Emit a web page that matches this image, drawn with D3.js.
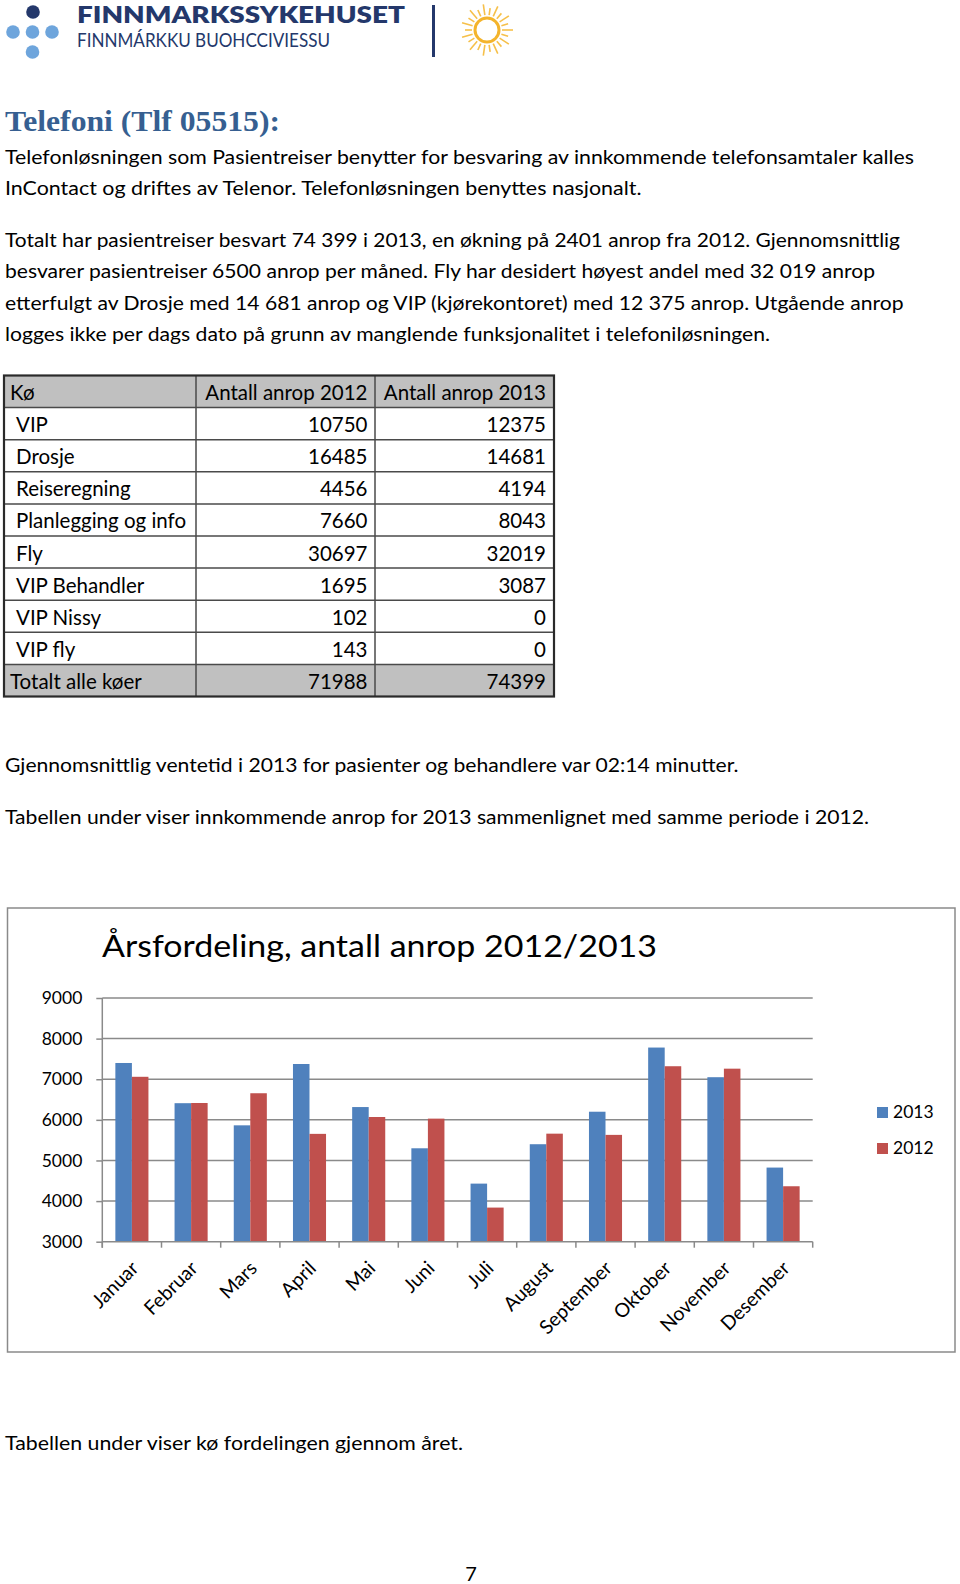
<!DOCTYPE html>
<html><head><meta charset="utf-8">
<script src="https://cdn.jsdelivr.net/npm/d3@7/dist/d3.min.js"></script>
<style>html,body{margin:0;padding:0;background:#fff;}svg{display:block;}</style>
</head><body>
<script>
// ---------- data ----------
const months = ["Januar","Februar","Mars","April","Mai","Juni","Juli","August","September","Oktober","November","Desember"];
const seriesNames = ["2013","2012"];
const calls2013 = [7400, 6410, 5865, 7375, 6315, 5300, 4430, 5400, 6200, 7780, 7050, 4825];
const calls2012 = [7060, 6415, 6655, 5655, 6070, 6030, 3840, 5660, 5630, 7320, 7260, 4365];
const yTicks = [3000, 4000, 5000, 6000, 7000, 8000, 9000];

const tableHeader = ["Kø", "Antall anrop 2012", "Antall anrop 2013"];
const queues = ["VIP","Drosje","Reiseregning","Planlegging og info","Fly","VIP Behandler","VIP Nissy","VIP fly","Totalt alle køer"];
const table2012 = [10750, 16485, 4456, 7660, 30697, 1695, 102, 143, 71988];
const table2013 = [12375, 14681, 4194, 8043, 32019, 3087, 0, 0, 74399];

const headingText = "Telefoni (Tlf 05515):";
const paragraph1 = [
  "Telefonløsningen som Pasientreiser benytter for besvaring av innkommende telefonsamtaler kalles",
  "InContact og driftes av Telenor. Telefonløsningen benyttes nasjonalt."
];
const paragraph2 = [
  "Totalt har pasientreiser besvart 74 399 i 2013, en økning på 2401 anrop fra 2012. Gjennomsnittlig",
  "besvarer pasientreiser 6500 anrop per måned. Fly har desidert høyest andel med 32 019 anrop",
  "etterfulgt av Drosje med 14 681 anrop og VIP (kjørekontoret) med 12 375 anrop.  Utgående anrop",
  "logges ikke per dags dato på grunn av manglende funksjonalitet i telefoniløsningen."
];
const waitText = "Gjennomsnittlig ventetid i 2013 for pasienter og behandlere var 02:14 minutter.";
const introText = "Tabellen under viser innkommende anrop for 2013 sammenlignet med samme periode i 2012.";
const afterText = "Tabellen under viser kø fordelingen gjennom året.";
const chartTitle = "Årsfordeling, antall anrop 2012/2013";

// ---------- page ----------
const W = 960, H = 1584;
const FONT = "Lato, 'Open Sans', sans-serif";
const svg = d3.select("body").append("svg").attr("width", W).attr("height", H);
svg.append("rect").attr("width", W).attr("height", H).attr("fill", "#fff");

function fitText(g, txt, x, y, width, size, opts = {}) {
  const t = g.append("text").attr("x", x).attr("y", y).text(txt)
    .attr("font-family", opts.family || FONT).attr("font-size", size)
    .attr("fill", opts.fill || "#000");
  if (opts.weight) t.attr("font-weight", opts.weight);
  if (width) t.attr("textLength", width).attr("lengthAdjust", "spacingAndGlyphs");
  return t;
}

// ---------- logo ----------
const logo = svg.append("g");
const navy = "#24386b", lightBlue = "#6ea5dc";
logo.append("circle").attr("cx", 33).attr("cy", 12).attr("r", 6.8).attr("fill", navy);
[[13,32],[32.5,32],[52,32],[32.5,52]].forEach(([cx,cy]) =>
  logo.append("circle").attr("cx", cx).attr("cy", cy).attr("r", 6.8).attr("fill", lightBlue));
fitText(logo, "FINNMARKSSYKEHUSET", 77, 22.5, 328, 22, {weight: 800, fill: navy});
fitText(logo, "FINNMÁRKKU BUOHCCIVIESSU", 77, 47, 253, 19, {fill: navy});
logo.append("rect").attr("x", 432).attr("y", 5).attr("width", 3).attr("height", 52).attr("fill", navy);
const sun = logo.append("g").attr("transform", "translate(487,30)");
sun.append("circle").attr("r", 12).attr("fill", "none").attr("stroke", "#f4b42c").attr("stroke-width", 3);
d3.range(22).forEach(i => {
  const a = i / 22 * 2 * Math.PI;
  const r1 = 15, r2 = i % 2 ? 22 : 26;
  sun.append("line").attr("x1", r1*Math.cos(a)).attr("y1", r1*Math.sin(a))
    .attr("x2", r2*Math.cos(a)).attr("y2", r2*Math.sin(a))
    .attr("stroke", "#f6c04a").attr("stroke-width", 1.6);
});

// ---------- heading and paragraphs ----------
fitText(svg, headingText, 5, 131, 275, 29, {family: "'Liberation Serif', 'DejaVu Serif', serif", weight: 700, fill: "#365f91"});
const p1W = [909, 636.5], p1Y = [163.5, 195];
paragraph1.forEach((s, i) => fitText(svg, s, 5, p1Y[i], p1W[i], 19.5));
const p2W = [895, 870, 898.5, 765], p2Y = [246.5, 278, 309.5, 341];
paragraph2.forEach((s, i) => fitText(svg, s, 5, p2Y[i], p2W[i], 19.5));

// ---------- table ----------
const tbl = svg.append("g");
const colX = [4, 196, 375, 554];
const rowTop = 375.5, rowH = 32.1;
const nRows = queues.length + 1;
const rowY = d3.scaleLinear().domain([0, nRows]).range([rowTop, rowTop + nRows * rowH]);
[0, nRows - 1].forEach(r => tbl.append("rect").attr("x", colX[0]).attr("y", rowY(r))
  .attr("width", colX[3] - colX[0]).attr("height", rowH).attr("fill", "#c0c0c0"));
d3.range(1, nRows).forEach(r => tbl.append("line").attr("x1", colX[0]).attr("x2", colX[3])
  .attr("y1", rowY(r)).attr("y2", rowY(r)).attr("stroke", "#4a4a4a").attr("stroke-width", 1.5));
[colX[1], colX[2]].forEach(x => tbl.append("line").attr("x1", x).attr("x2", x)
  .attr("y1", rowY(0)).attr("y2", rowY(nRows)).attr("stroke", "#4a4a4a").attr("stroke-width", 1.5));
tbl.append("rect").attr("x", colX[0]).attr("y", rowY(0)).attr("width", colX[3] - colX[0])
  .attr("height", nRows * rowH).attr("fill", "none").attr("stroke", "#2a2a2a").attr("stroke-width", 2.2);
const tSize = 20.5;
tbl.append("text").attr("x", 10).attr("y", rowY(0) + 24.5).text(tableHeader[0]).attr("font-family", FONT).attr("font-size", tSize);
tbl.append("text").attr("x", 367.5).attr("y", rowY(0) + 24.5).attr("text-anchor", "end").text(tableHeader[1]).attr("font-family", FONT).attr("font-size", tSize);
tbl.append("text").attr("x", 546).attr("y", rowY(0) + 24.5).attr("text-anchor", "end").text(tableHeader[2]).attr("font-family", FONT).attr("font-size", tSize);
queues.forEach((q, i) => {
  const y = rowY(i + 1) + 24.5;
  const isTotal = i === queues.length - 1;
  tbl.append("text").attr("x", isTotal ? 10 : 16).attr("y", y).text(q).attr("font-family", FONT).attr("font-size", tSize);
  tbl.append("text").attr("x", 367.5).attr("y", y).attr("text-anchor", "end").text(table2012[i]).attr("font-family", FONT).attr("font-size", tSize);
  tbl.append("text").attr("x", 546).attr("y", y).attr("text-anchor", "end").text(table2013[i]).attr("font-family", FONT).attr("font-size", tSize);
});

// ---------- more text ----------
fitText(svg, waitText, 5, 772, 733.5, 19.5);
fitText(svg, introText, 5, 824, 864, 19.5);

// ---------- chart ----------
const chart = svg.append("g");
chart.append("rect").attr("x", 7.5).attr("y", 908).attr("width", 947.5).attr("height", 444)
  .attr("fill", "#fff").attr("stroke", "#8a8a8a").attr("stroke-width", 1.5);
fitText(chart, chartTitle, 102, 957, 555, 31);

const plotL = 102.3, plotR = 812.7, plotB = 1241.7, plotT = 998;
const x0 = d3.scaleBand().domain(months).range([plotL, plotR]).padding(0);
const x1 = d3.scaleBand().domain(seriesNames).range([0, x0.bandwidth()]).paddingInner(0).paddingOuter(0.79);
const y = d3.scaleLinear().domain([3000, 9000]).range([plotB, plotT]);
const colors = {"2013": "#4f81bd", "2012": "#c0504d"};
const gridColor = "#8a8a8a";

// gridlines + y axis
const yAxis = d3.axisLeft(y).tickValues(yTicks).tickSize(6).tickPadding(14).tickFormat(d3.format("d"));
const yg = chart.append("g").attr("transform", `translate(${plotL},0)`).call(yAxis);
yg.select(".domain").remove();
yg.selectAll(".tick line").attr("stroke", gridColor).attr("stroke-width", 1.5);
yg.selectAll(".tick text").attr("font-family", FONT).attr("font-size", 17.5).attr("fill", "#000");
chart.append("g").selectAll("line").data(yTicks.filter(t => t > 3000)).join("line")
  .attr("x1", plotL).attr("x2", plotR).attr("y1", d => y(d)).attr("y2", d => y(d))
  .attr("stroke", gridColor).attr("stroke-width", 1.5);

// bars
const data = months.map((m, i) => ({month: m, values: [{s: "2013", v: calls2013[i]}, {s: "2012", v: calls2012[i]}]}));
const groups = chart.append("g").selectAll("g").data(data).join("g")
  .attr("transform", d => `translate(${x0(d.month)},0)`);
groups.selectAll("rect").data(d => d.values).join("rect")
  .attr("x", d => x1(d.s)).attr("width", x1.bandwidth())
  .attr("y", d => y(d.v)).attr("height", d => y(3000) - y(d.v))
  .attr("fill", d => colors[d.s]);

// x axis
const xg = chart.append("g").attr("transform", `translate(0,${plotB})`);
xg.append("line").attr("x1", plotL).attr("x2", plotR).attr("stroke", gridColor).attr("stroke-width", 1.5);
xg.append("line").attr("x1", plotL).attr("x2", plotL).attr("y1", y(9000) - plotB).attr("y2", 6).attr("stroke", gridColor).attr("stroke-width", 1.5);
const bounds = months.map(m => x0(m)).concat([plotR]);
xg.selectAll(".tk").data(bounds).join("line").attr("class", "tk")
  .attr("x1", d => d).attr("x2", d => d).attr("y1", 0).attr("y2", 6)
  .attr("stroke", gridColor).attr("stroke-width", 1.5);
xg.selectAll(".lbl").data(months).join("text").attr("class", "lbl")
  .attr("transform", d => `translate(${x0(d) + x0.bandwidth() / 2 + 3},${23}) rotate(-45)`)
  .attr("text-anchor", "end").attr("dy", "0.35em")
  .attr("font-family", FONT).attr("font-size", 19.5).text(d => d);

// legend
const lg = chart.append("g").attr("transform", "translate(877,1107)");
seriesNames.forEach((s, i) => {
  lg.append("rect").attr("x", 0).attr("y", i * 36).attr("width", 11).attr("height", 11).attr("fill", colors[s]);
  lg.append("text").attr("x", 16).attr("y", i * 36 + 11).text(s).attr("font-family", FONT).attr("font-size", 17.5);
});

// ---------- footer ----------
fitText(svg, afterText, 5, 1450, 458, 19.5);
svg.append("text").attr("x", 471).attr("y", 1581).attr("text-anchor", "middle").text("7")
  .attr("font-family", FONT).attr("font-size", 20);
</script>
</body></html>
